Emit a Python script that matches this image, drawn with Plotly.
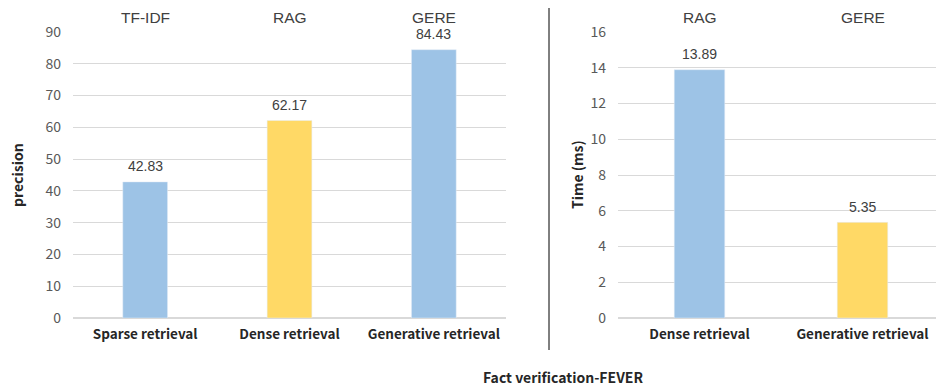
import plotly.graph_objects as go

# Data
left_categories = ["Sparse retrieval", "Dense retrieval", "Generative retrieval"]
left_values = [42.83, 62.17, 84.43]
left_methods = ["TF-IDF", "RAG", "GERE"]
left_colors = ["#9DC3E6", "#FFD966", "#9DC3E6"]

right_categories = ["Dense retrieval", "Generative retrieval"]
right_values = [13.89, 5.35]
right_methods = ["RAG", "GERE"]
right_colors = ["#9DC3E6", "#FFD966"]

FONT = "Noto Sans CJK SC"
FONT2 = "Liberation Sans"
W, H = 944, 387
OFF = 8  # page body margin


def px(x):
    return (x - OFF) / W


def py(y):
    return 1 - (y - OFF) / H


fig = go.Figure()
fig.add_trace(go.Bar(
    x=left_categories, y=left_values, marker_color=left_colors,
    xaxis="x", yaxis="y", width=0.31, showlegend=False,
))
fig.add_trace(go.Bar(
    x=right_categories, y=right_values, marker_color=right_colors,
    xaxis="x2", yaxis="y2", width=0.31, showlegend=False,
))

ydom = [py(318), py(32)]
grid = "#D9D9D9"
tickfont = dict(size=14, color="#595959", family=FONT)
catfont = dict(size=13.5, color="#262626", family=FONT, weight="bold")
valfont = dict(size=14, color="#404040", family=FONT2)
topfont = dict(size=15.5, color="#404040", family=FONT2)

fig.update_layout(
    width=W, height=H,
    margin=dict(l=0, r=0, t=0, b=0),
    paper_bgcolor="white", plot_bgcolor="white",
    font=dict(family=FONT),
    xaxis=dict(domain=[px(73), px(506)], anchor="y", tickfont=catfont,
               showline=False, ticks="", ticklabelstandoff=6, automargin=False),
    yaxis=dict(domain=ydom, anchor="x", range=[0, 90], dtick=10,
               gridcolor=grid, zerolinecolor=grid, tickfont=tickfont,
               ticklabelstandoff=11, automargin=False),
    xaxis2=dict(domain=[px(618), px(944)], anchor="y2", tickfont=catfont,
                showline=False, ticks="", ticklabelstandoff=6, automargin=False),
    yaxis2=dict(domain=ydom, anchor="x2", range=[0, 16], dtick=2,
                gridcolor=grid, zerolinecolor=grid, tickfont=tickfont,
                ticklabelstandoff=11, automargin=False),
)

annotations = []
for cat, v in zip(left_categories, left_values):
    annotations.append(dict(x=cat, y=v, xref="x", yref="y", text=f"{v:.2f}",
                            xanchor="center", yanchor="middle", yshift=15.5,
                            showarrow=False, font=valfont))
for cat, v in zip(right_categories, right_values):
    annotations.append(dict(x=cat, y=v, xref="x2", yref="y2", text=f"{v:.2f}",
                            xanchor="center", yanchor="middle", yshift=15.5,
                            showarrow=False, font=valfont))
for cat, m in zip(left_categories, left_methods):
    annotations.append(dict(x=cat, y=py(17.5), xref="x", yref="paper", text=m,
                            xanchor="center", yanchor="middle", showarrow=False,
                            font=topfont))
for cat, m in zip(right_categories, right_methods):
    annotations.append(dict(x=cat, y=py(17.5), xref="x2", yref="paper", text=m,
                            xanchor="center", yanchor="middle", showarrow=False,
                            font=topfont))
annotations.append(dict(x=px(17), y=py(175), xref="paper", yref="paper", text="precision",
                        textangle=-90, xanchor="center", yanchor="middle", showarrow=False,
                        font=dict(size=14, color="#262626", family=FONT, weight="bold")))
annotations.append(dict(x=px(577), y=py(175), xref="paper", yref="paper", text="Time (ms)",
                        textangle=-90, xanchor="center", yanchor="middle", showarrow=False,
                        font=dict(size=14, color="#262626", family=FONT, weight="bold")))
annotations.append(dict(x=px(563), y=py(377), xref="paper", yref="paper",
                        text="Fact verification-FEVER", xanchor="center", yanchor="middle",
                        showarrow=False,
                        font=dict(size=14, color="#262626", family=FONT, weight="bold")))
fig.update_layout(annotations=annotations)

fig.add_shape(type="line", xref="paper", yref="paper",
              x0=px(549), x1=px(549), y0=py(350), y1=py(6),
              line=dict(color="black", width=1))

fig.write_html("out.html")
